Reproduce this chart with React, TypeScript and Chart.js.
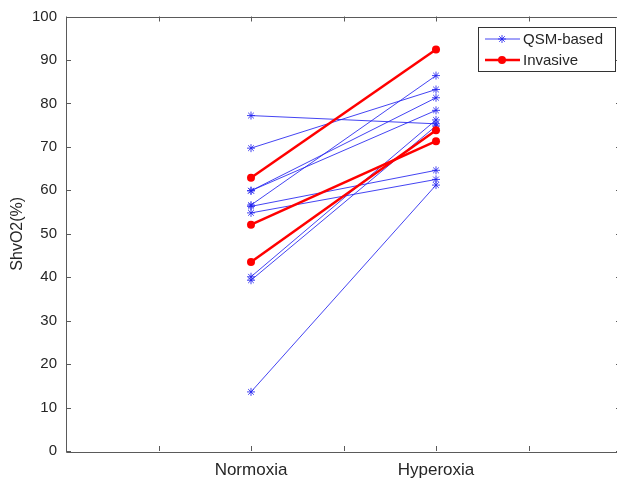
import React, { useEffect, useRef } from 'react';
import { Chart, registerables } from 'chart.js';

Chart.register(...registerables);

const categories = ['Normoxia', 'Hyperoxia'];
const categoryPositions = [1, 2];
const seriesLabels = ['QSM-based', 'Invasive'];
const qsmNormoxia = [77.2, 69.7, 59.9, 59.9, 56.6, 56.3, 54.8, 40.1, 39.3, 13.6];
const qsmHyperoxia = [75.3, 83.2, 81.3, 78.4, 86.4, 64.6, 62.5, 76.2, 74.8, 61.2];
const invasiveNormoxia = [62.9, 52.1, 43.5];
const invasiveHyperoxia = [92.4, 71.3, 73.8];
const yAxisTitle = 'ShvO2(%)';

const BLUE = 'rgba(35,35,240,0.85)';
const RED = '#ff0000';
const AXIS = '#5a5a5a';
const TEXT = '#262626';
const FONT = '"Liberation Sans", Arial, sans-serif';

const axesPlugin = {
  id: 'matlabAxes',
  afterDraw(chart: any) {
    const { ctx, chartArea } = chart;
    const { left, right, top, bottom } = chartArea;
    const xs = chart.scales.x;
    const ys = chart.scales.y;
    ctx.save();
    ctx.strokeStyle = AXIS;
    ctx.lineWidth = 1;
    ctx.beginPath();
    ctx.rect(Math.round(left) + 0.5, Math.round(top) + 0.5, Math.round(right - left), Math.round(bottom - top));
    ctx.stroke();
    const tl = 5;
    ctx.beginPath();
    xs.ticks.forEach((t: any) => {
      const px = Math.round(xs.getPixelForValue(t.value)) + 0.5;
      ctx.moveTo(px, bottom);
      ctx.lineTo(px, bottom - tl);
      ctx.moveTo(px, top);
      ctx.lineTo(px, top + tl);
    });
    ys.ticks.forEach((t: any) => {
      const py = Math.round(ys.getPixelForValue(t.value)) + 0.5;
      ctx.moveTo(left, py);
      ctx.lineTo(left + tl, py);
      ctx.moveTo(right, py);
      ctx.lineTo(right - tl, py);
    });
    ctx.stroke();

    // legend
    const lx = 478, ly = 27, lw = 137, lh = 44;
    ctx.fillStyle = '#ffffff';
    ctx.fillRect(lx, ly, lw, lh);
    ctx.strokeStyle = '#333333';
    ctx.strokeRect(lx + 0.5, ly + 0.5, lw, lh);
    const rows = [
      { label: seriesLabels[0], color: BLUE, width: 1, marker: 'star', y: 39 },
      { label: seriesLabels[1], color: RED, width: 2.5, marker: 'circle', y: 60 },
    ];
    rows.forEach((r) => {
      ctx.strokeStyle = r.color;
      ctx.lineWidth = r.width;
      ctx.beginPath();
      ctx.moveTo(485, r.y);
      ctx.lineTo(520, r.y);
      ctx.stroke();
      if (r.marker === 'star') {
        ctx.lineWidth = 1;
        const s = 4;
        ctx.beginPath();
        ctx.moveTo(502 - s, r.y); ctx.lineTo(502 + s, r.y);
        ctx.moveTo(502, r.y - s); ctx.lineTo(502, r.y + s);
        ctx.moveTo(502 - s * 0.7, r.y - s * 0.7); ctx.lineTo(502 + s * 0.7, r.y + s * 0.7);
        ctx.moveTo(502 - s * 0.7, r.y + s * 0.7); ctx.lineTo(502 + s * 0.7, r.y - s * 0.7);
        ctx.stroke();
      } else {
        ctx.fillStyle = r.color;
        ctx.beginPath();
        ctx.arc(502, r.y, 4, 0, Math.PI * 2);
        ctx.fill();
      }
      ctx.fillStyle = TEXT;
      ctx.font = `15px ${FONT}`;
      ctx.textBaseline = 'middle';
      ctx.textAlign = 'left';
      ctx.fillText(r.label, 523, r.y + 1);
    });
    ctx.restore();
  },
};

export default function App() {
  const ref = useRef<HTMLCanvasElement>(null);
  useEffect(() => {
    if (!ref.current) return;
    const datasets: any[] = [];
    invasiveNormoxia.forEach((v, i) => {
      datasets.push({
        label: seriesLabels[1],
        data: [
          { x: categoryPositions[0], y: v },
          { x: categoryPositions[1], y: invasiveHyperoxia[i] },
        ],
        borderColor: RED,
        backgroundColor: RED,
        borderWidth: 2.5,
        pointStyle: 'circle',
        pointRadius: 4,
        pointBorderWidth: 0,
        pointBackgroundColor: RED,
        order: 0,
      });
    });
    qsmNormoxia.forEach((v, i) => {
      datasets.push({
        label: seriesLabels[0],
        data: [
          { x: categoryPositions[0], y: v },
          { x: categoryPositions[1], y: qsmHyperoxia[i] },
        ],
        borderColor: BLUE,
        backgroundColor: BLUE,
        borderWidth: 1,
        pointStyle: 'star',
        pointRadius: 4,
        pointBorderWidth: 1,
        pointBorderColor: BLUE,
        order: 1,
      });
    });
    const chart = new Chart(ref.current, {
      type: 'line',
      data: { datasets },
      options: {
        animation: false,
        responsive: false,
        layout: { padding: { top: 16, right: 1, left: 0, bottom: 0 } },
        plugins: { legend: { display: false }, tooltip: { enabled: false } },
        scales: {
          x: {
            type: 'linear',
            min: 0,
            max: 3,
            grid: { display: false, drawTicks: false, tickLength: 0 },
            border: { display: false },
            afterFit: (s: any) => { s.height = 30; },
            ticks: {
              stepSize: 0.5,
              autoSkip: false,
              maxRotation: 0,
              padding: 9,
              color: TEXT,
              font: { family: FONT, size: 17 },
              callback: (val: any) => {
                const idx = categoryPositions.indexOf(Number(val));
                return idx >= 0 ? categories[idx] : '';
              },
            },
          },
          y: {
            min: 0,
            max: 100,
            grid: { display: false, drawTicks: false, tickLength: 0 },
            border: { display: false },
            afterFit: (s: any) => { s.width = 66; },
            ticks: {
              stepSize: 10,
              padding: 9,
              color: TEXT,
              font: { family: FONT, size: 15, lineHeight: 1 },
            },
            title: {
              display: true,
              text: yAxisTitle,
              color: TEXT,
              font: { family: FONT, size: 16 },
              padding: { top: 8, bottom: 0 },
            },
          },
        },
      },
      plugins: [axesPlugin],
    });
    return () => chart.destroy();
  }, []);
  return (
    <div style={{ position: 'fixed', left: 0, top: 0, width: 617, height: 481, overflow: 'hidden', background: '#fff' }}>
      <canvas ref={ref} width={630} height={481} style={{ display: 'block' }} />
    </div>
  );
}
